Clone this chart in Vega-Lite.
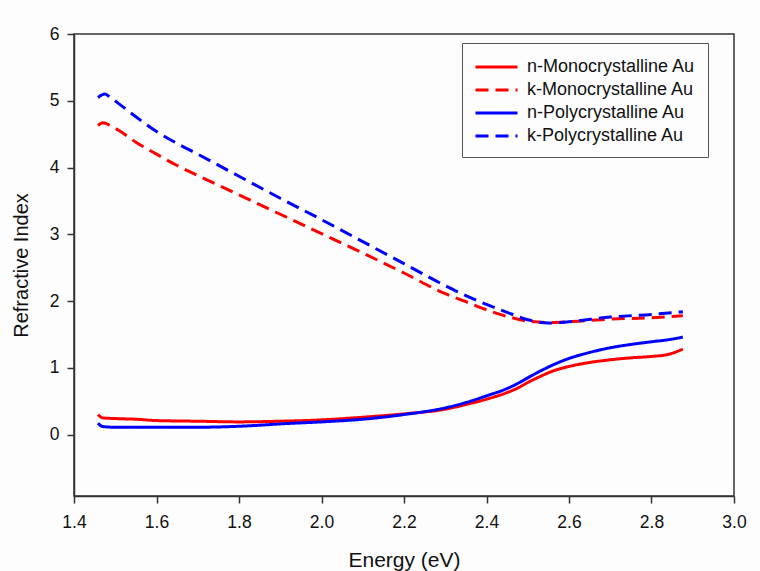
{
  "$schema": "https://vega.github.io/schema/vega-lite/v6.json",
  "width": 660,
  "height": 462,
  "autosize": {"type": "none"},
  "padding": {"left": 74, "top": 34, "right": 26, "bottom": 75},
  "background": "#fdfdfd",
  "config": {
    "font": "Liberation Sans",
    "view": {"stroke": "#333333", "strokeWidth": 1.5},
    "axis": {
      "grid": false,
      "domainColor": "#333333",
      "domainWidth": 1.5,
      "tickColor": "#333333",
      "tickWidth": 1.5,
      "tickSize": 7,
      "labelFont": "Liberation Sans",
      "labelFontSize": 17.5,
      "labelColor": "#111111",
      "titleFont": "Liberation Sans",
      "titleFontWeight": "normal",
      "titleColor": "#111111"
    }
  },
  "data": {
    "values": [
      {"E": 1.458, "v": 0.30, "s": "n-Monocrystalline Au"},
      {"E": 1.47, "v": 0.25, "s": "n-Monocrystalline Au"},
      {"E": 1.50, "v": 0.24, "s": "n-Monocrystalline Au"},
      {"E": 1.55, "v": 0.23, "s": "n-Monocrystalline Au"},
      {"E": 1.60, "v": 0.21, "s": "n-Monocrystalline Au"},
      {"E": 1.70, "v": 0.20, "s": "n-Monocrystalline Au"},
      {"E": 1.80, "v": 0.19, "s": "n-Monocrystalline Au"},
      {"E": 1.90, "v": 0.20, "s": "n-Monocrystalline Au"},
      {"E": 2.00, "v": 0.22, "s": "n-Monocrystalline Au"},
      {"E": 2.10, "v": 0.26, "s": "n-Monocrystalline Au"},
      {"E": 2.20, "v": 0.31, "s": "n-Monocrystalline Au"},
      {"E": 2.30, "v": 0.38, "s": "n-Monocrystalline Au"},
      {"E": 2.35, "v": 0.45, "s": "n-Monocrystalline Au"},
      {"E": 2.40, "v": 0.53, "s": "n-Monocrystalline Au"},
      {"E": 2.45, "v": 0.63, "s": "n-Monocrystalline Au"},
      {"E": 2.48, "v": 0.71, "s": "n-Monocrystalline Au"},
      {"E": 2.50, "v": 0.78, "s": "n-Monocrystalline Au"},
      {"E": 2.53, "v": 0.87, "s": "n-Monocrystalline Au"},
      {"E": 2.56, "v": 0.95, "s": "n-Monocrystalline Au"},
      {"E": 2.60, "v": 1.02, "s": "n-Monocrystalline Au"},
      {"E": 2.65, "v": 1.08, "s": "n-Monocrystalline Au"},
      {"E": 2.70, "v": 1.12, "s": "n-Monocrystalline Au"},
      {"E": 2.75, "v": 1.15, "s": "n-Monocrystalline Au"},
      {"E": 2.80, "v": 1.17, "s": "n-Monocrystalline Au"},
      {"E": 2.84, "v": 1.20, "s": "n-Monocrystalline Au"},
      {"E": 2.876, "v": 1.28, "s": "n-Monocrystalline Au"},

      {"E": 1.458, "v": 4.63, "s": "k-Monocrystalline Au"},
      {"E": 1.47, "v": 4.67, "s": "k-Monocrystalline Au"},
      {"E": 1.49, "v": 4.62, "s": "k-Monocrystalline Au"},
      {"E": 1.51, "v": 4.55, "s": "k-Monocrystalline Au"},
      {"E": 1.55, "v": 4.38, "s": "k-Monocrystalline Au"},
      {"E": 1.60, "v": 4.20, "s": "k-Monocrystalline Au"},
      {"E": 1.65, "v": 4.03, "s": "k-Monocrystalline Au"},
      {"E": 1.70, "v": 3.88, "s": "k-Monocrystalline Au"},
      {"E": 1.80, "v": 3.59, "s": "k-Monocrystalline Au"},
      {"E": 1.90, "v": 3.30, "s": "k-Monocrystalline Au"},
      {"E": 2.00, "v": 3.01, "s": "k-Monocrystalline Au"},
      {"E": 2.10, "v": 2.72, "s": "k-Monocrystalline Au"},
      {"E": 2.20, "v": 2.42, "s": "k-Monocrystalline Au"},
      {"E": 2.30, "v": 2.11, "s": "k-Monocrystalline Au"},
      {"E": 2.35, "v": 1.99, "s": "k-Monocrystalline Au"},
      {"E": 2.40, "v": 1.87, "s": "k-Monocrystalline Au"},
      {"E": 2.45, "v": 1.77, "s": "k-Monocrystalline Au"},
      {"E": 2.50, "v": 1.70, "s": "k-Monocrystalline Au"},
      {"E": 2.55, "v": 1.68, "s": "k-Monocrystalline Au"},
      {"E": 2.60, "v": 1.69, "s": "k-Monocrystalline Au"},
      {"E": 2.70, "v": 1.73, "s": "k-Monocrystalline Au"},
      {"E": 2.80, "v": 1.75, "s": "k-Monocrystalline Au"},
      {"E": 2.876, "v": 1.78, "s": "k-Monocrystalline Au"},

      {"E": 1.458, "v": 0.17, "s": "n-Polycrystalline Au"},
      {"E": 1.47, "v": 0.12, "s": "n-Polycrystalline Au"},
      {"E": 1.50, "v": 0.11, "s": "n-Polycrystalline Au"},
      {"E": 1.60, "v": 0.11, "s": "n-Polycrystalline Au"},
      {"E": 1.70, "v": 0.11, "s": "n-Polycrystalline Au"},
      {"E": 1.78, "v": 0.12, "s": "n-Polycrystalline Au"},
      {"E": 1.85, "v": 0.14, "s": "n-Polycrystalline Au"},
      {"E": 1.90, "v": 0.16, "s": "n-Polycrystalline Au"},
      {"E": 2.00, "v": 0.19, "s": "n-Polycrystalline Au"},
      {"E": 2.10, "v": 0.23, "s": "n-Polycrystalline Au"},
      {"E": 2.20, "v": 0.30, "s": "n-Polycrystalline Au"},
      {"E": 2.30, "v": 0.40, "s": "n-Polycrystalline Au"},
      {"E": 2.35, "v": 0.48, "s": "n-Polycrystalline Au"},
      {"E": 2.40, "v": 0.58, "s": "n-Polycrystalline Au"},
      {"E": 2.45, "v": 0.69, "s": "n-Polycrystalline Au"},
      {"E": 2.48, "v": 0.78, "s": "n-Polycrystalline Au"},
      {"E": 2.50, "v": 0.85, "s": "n-Polycrystalline Au"},
      {"E": 2.53, "v": 0.95, "s": "n-Polycrystalline Au"},
      {"E": 2.56, "v": 1.04, "s": "n-Polycrystalline Au"},
      {"E": 2.60, "v": 1.14, "s": "n-Polycrystalline Au"},
      {"E": 2.65, "v": 1.23, "s": "n-Polycrystalline Au"},
      {"E": 2.70, "v": 1.30, "s": "n-Polycrystalline Au"},
      {"E": 2.75, "v": 1.35, "s": "n-Polycrystalline Au"},
      {"E": 2.80, "v": 1.39, "s": "n-Polycrystalline Au"},
      {"E": 2.85, "v": 1.43, "s": "n-Polycrystalline Au"},
      {"E": 2.876, "v": 1.46, "s": "n-Polycrystalline Au"},

      {"E": 1.458, "v": 5.05, "s": "k-Polycrystalline Au"},
      {"E": 1.475, "v": 5.10, "s": "k-Polycrystalline Au"},
      {"E": 1.49, "v": 5.04, "s": "k-Polycrystalline Au"},
      {"E": 1.51, "v": 4.95, "s": "k-Polycrystalline Au"},
      {"E": 1.55, "v": 4.76, "s": "k-Polycrystalline Au"},
      {"E": 1.60, "v": 4.54, "s": "k-Polycrystalline Au"},
      {"E": 1.65, "v": 4.36, "s": "k-Polycrystalline Au"},
      {"E": 1.70, "v": 4.20, "s": "k-Polycrystalline Au"},
      {"E": 1.80, "v": 3.87, "s": "k-Polycrystalline Au"},
      {"E": 1.90, "v": 3.54, "s": "k-Polycrystalline Au"},
      {"E": 2.00, "v": 3.22, "s": "k-Polycrystalline Au"},
      {"E": 2.10, "v": 2.89, "s": "k-Polycrystalline Au"},
      {"E": 2.20, "v": 2.56, "s": "k-Polycrystalline Au"},
      {"E": 2.30, "v": 2.23, "s": "k-Polycrystalline Au"},
      {"E": 2.35, "v": 2.08, "s": "k-Polycrystalline Au"},
      {"E": 2.40, "v": 1.95, "s": "k-Polycrystalline Au"},
      {"E": 2.45, "v": 1.83, "s": "k-Polycrystalline Au"},
      {"E": 2.50, "v": 1.72, "s": "k-Polycrystalline Au"},
      {"E": 2.55, "v": 1.67, "s": "k-Polycrystalline Au"},
      {"E": 2.60, "v": 1.69, "s": "k-Polycrystalline Au"},
      {"E": 2.70, "v": 1.76, "s": "k-Polycrystalline Au"},
      {"E": 2.80, "v": 1.80, "s": "k-Polycrystalline Au"},
      {"E": 2.876, "v": 1.84, "s": "k-Polycrystalline Au"}
    ]
  },
  "mark": {"type": "line", "strokeWidth": 3, "interpolate": "monotone"},
  "encoding": {
    "x": {
      "field": "E",
      "type": "quantitative",
      "scale": {"domain": [1.4, 3.0], "nice": false, "zero": false},
      "axis": {
        "title": "Energy (eV)",
        "titleFontSize": 21,
        "titlePadding": 19,
        "values": [1.4, 1.6, 1.8, 2.0, 2.2, 2.4, 2.6, 2.8, 3.0],
        "format": ".1f",
        "labelPadding": 10,
        "labelFlush": false
      }
    },
    "y": {
      "field": "v",
      "type": "quantitative",
      "scale": {"domain": [-0.92, 6], "nice": false, "zero": false},
      "axis": {
        "title": "Refractive Index",
        "titleFontSize": 20,
        "titlePadding": 18,
        "values": [0, 1, 2, 3, 4, 5, 6],
        "format": "d",
        "labelPadding": 8,
        "labelFlush": false
      }
    },
    "color": {
      "field": "s",
      "type": "nominal",
      "scale": {
        "domain": ["n-Monocrystalline Au", "k-Monocrystalline Au", "n-Polycrystalline Au", "k-Polycrystalline Au"],
        "range": ["#ff0000", "#ff0000", "#0000ff", "#0000ff"]
      },
      "legend": {
        "title": null,
        "orient": "none",
        "legendX": 388,
        "legendY": 9,
        "padding": 12,
        "strokeColor": "#555555",
        "fillColor": "#fdfdfd",
        "symbolType": "M-1,0H3",
        "symbolSize": 441,
        "symbolStrokeWidth": 3,
        "labelFontSize": 18,
        "labelFont": "Liberation Sans",
        "labelColor": "#111111",
        "labelOffset": 29,
        "labelLimit": 300,
        "rowPadding": 2
      }
    },
    "strokeDash": {
      "field": "s",
      "type": "nominal",
      "scale": {
        "domain": ["n-Monocrystalline Au", "k-Monocrystalline Au", "n-Polycrystalline Au", "k-Polycrystalline Au"],
        "range": [[1, 0], [13, 7], [1, 0], [13, 7]]
      },
      "legend": {
        "title": null,
        "orient": "none",
        "legendX": 388,
        "legendY": 9,
        "padding": 12,
        "strokeColor": "#555555",
        "fillColor": "#fdfdfd",
        "symbolType": "M-1,0H3",
        "symbolSize": 441,
        "symbolStrokeWidth": 3,
        "labelFontSize": 18,
        "labelFont": "Liberation Sans",
        "labelColor": "#111111",
        "labelOffset": 29,
        "labelLimit": 300,
        "rowPadding": 2
      }
    }
  }
}
